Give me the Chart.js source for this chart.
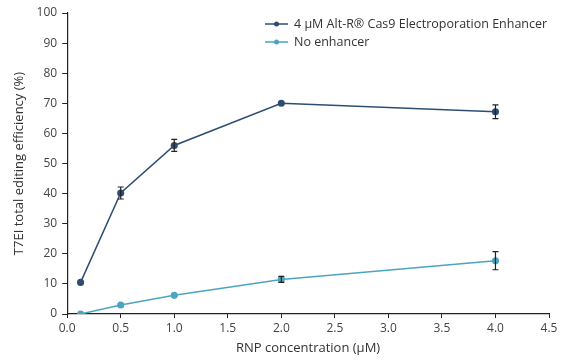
<!DOCTYPE html>
<html><head><meta charset="utf-8">
<script src="https://cdn.jsdelivr.net/npm/chart.js@4/dist/chart.umd.min.js"></script>
<style>html,body{margin:0;padding:0;background:#fff}#w{width:567px;height:363px}</style>
</head><body><div id="w"><canvas id="c" width="567" height="363"></canvas></div>
<script>
const concentrations = [0.125, 0.5, 1.0, 2.0, 4.0];
const enhancerValues = [10.5, 40.2, 56.0, 70.0, 67.2];
const enhancerErrors = [0.3, 2.0, 2.0, 0.5, 2.3];
const noEnhancerValues = [0.0, 3.0, 6.2, 11.5, 17.7];
const noEnhancerErrors = [0.2, 0.3, 0.5, 1.0, 3.0];
const seriesLabels = ['4 µM Alt-R® Cas9 Electroporation Enhancer', 'No enhancer'];
const xTicks = [0, 0.5, 1, 1.5, 2, 2.5, 3, 3.5, 4, 4.5];
const yTicks = [0, 10, 20, 30, 40, 50, 60, 70, 80, 90, 100];
const darkColor = '#2d4e72';
const lightColor = '#4ba5c1';
const fontFamily = "'Open Sans', 'Noto Sans', sans-serif";

const errorBars = {
  id: 'errorBars',
  afterDatasetsDraw(chart) {
    const ctx = chart.ctx, xs = chart.scales.x, ys = chart.scales.y;
    ctx.save();
    ctx.strokeStyle = '#222';
    ctx.lineWidth = 1.2;
    chart.data.datasets.forEach(ds => {
      ds.data.forEach((p, i) => {
        const e = ds.errors[i];
        if (e < 0.6) return;
        const x = xs.getPixelForValue(p.x);
        const y1 = ys.getPixelForValue(p.y - e), y2 = ys.getPixelForValue(p.y + e);
        ctx.beginPath();
        ctx.moveTo(x, y1); ctx.lineTo(x, y2);
        ctx.moveTo(x - 3, y1); ctx.lineTo(x + 3, y1);
        ctx.moveTo(x - 3, y2); ctx.lineTo(x + 3, y2);
        ctx.stroke();
      });
    });
    ctx.restore();
  }
};

const customLegend = {
  id: 'customLegend',
  afterDraw(chart) {
    const ctx = chart.ctx;
    ctx.save();
    ctx.font = '12.5px ' + fontFamily;
    ctx.textBaseline = 'middle';
    chart.data.datasets.forEach((ds, i) => {
      const y = 24 + i * 18;
      ctx.strokeStyle = ds.borderColor; ctx.lineWidth = 1.5;
      ctx.beginPath(); ctx.moveTo(265, y); ctx.lineTo(288, y); ctx.stroke();
      ctx.fillStyle = ds.borderColor;
      ctx.beginPath(); ctx.arc(276.5, y, 2.5, 0, Math.PI * 2); ctx.fill();
      ctx.fillStyle = '#333';
      ctx.fillText(ds.label, 294, y);
    });
    ctx.restore();
  }
};

const mk = (xs, ys) => xs.map((x, i) => ({x, y: ys[i]}));

new Chart(document.getElementById('c'), {
  type: 'line',
  data: {
    datasets: [
      {label: seriesLabels[0], data: mk(concentrations, enhancerValues), errors: enhancerErrors,
       borderColor: darkColor, backgroundColor: darkColor, borderWidth: 1.5, pointRadius: 2.8, pointHoverRadius: 2.8, tension: 0},
      {label: seriesLabels[1], data: mk(concentrations, noEnhancerValues), errors: noEnhancerErrors,
       borderColor: lightColor, backgroundColor: lightColor, borderWidth: 1.5, pointRadius: 2.8, pointHoverRadius: 2.8, tension: 0}
    ]
  },
  options: {
    responsive: false, animation: false, devicePixelRatio: 1,
    layout: {padding: {left: 11, right: 18, top: 13, bottom: 7}},
    plugins: {legend: {display: false}, tooltip: {enabled: false}},
    scales: {
      x: {type: 'linear', min: 0, max: 4.5,
        afterBuildTicks: s => { s.ticks = xTicks.map(v => ({value: v})); },
        grid: {display: true, drawOnChartArea: false, drawTicks: true, tickLength: 4, color: '#222', tickColor: '#222'},
        border: {display: true, color: '#222', width: 1.2},
        ticks: {color: '#444', font: {family: fontFamily, size: 12}, padding: 3, maxRotation: 0,
          callback: v => Number(v).toFixed(1)},
        title: {display: true, text: 'RNP concentration (µM)', color: '#333', font: {family: fontFamily, size: 13}, padding: {top: 2, bottom: 0}}
      },
      y: {type: 'linear', min: 0, max: 100,
        afterBuildTicks: s => { s.ticks = yTicks.map(v => ({value: v})); },
        grid: {display: true, drawOnChartArea: false, drawTicks: true, tickLength: 5, color: '#222', tickColor: '#222'},
        border: {display: true, color: '#222', width: 1.2},
        ticks: {color: '#444', font: {family: fontFamily, size: 12}, padding: 5},
        title: {display: true, text: 'T7EI total editing efficiency (%)', color: '#333', font: {family: fontFamily, size: 13}, padding: {top: 0, bottom: 5}}
      }
    }
  },
  plugins: [errorBars, customLegend]
});
</script></body></html>
